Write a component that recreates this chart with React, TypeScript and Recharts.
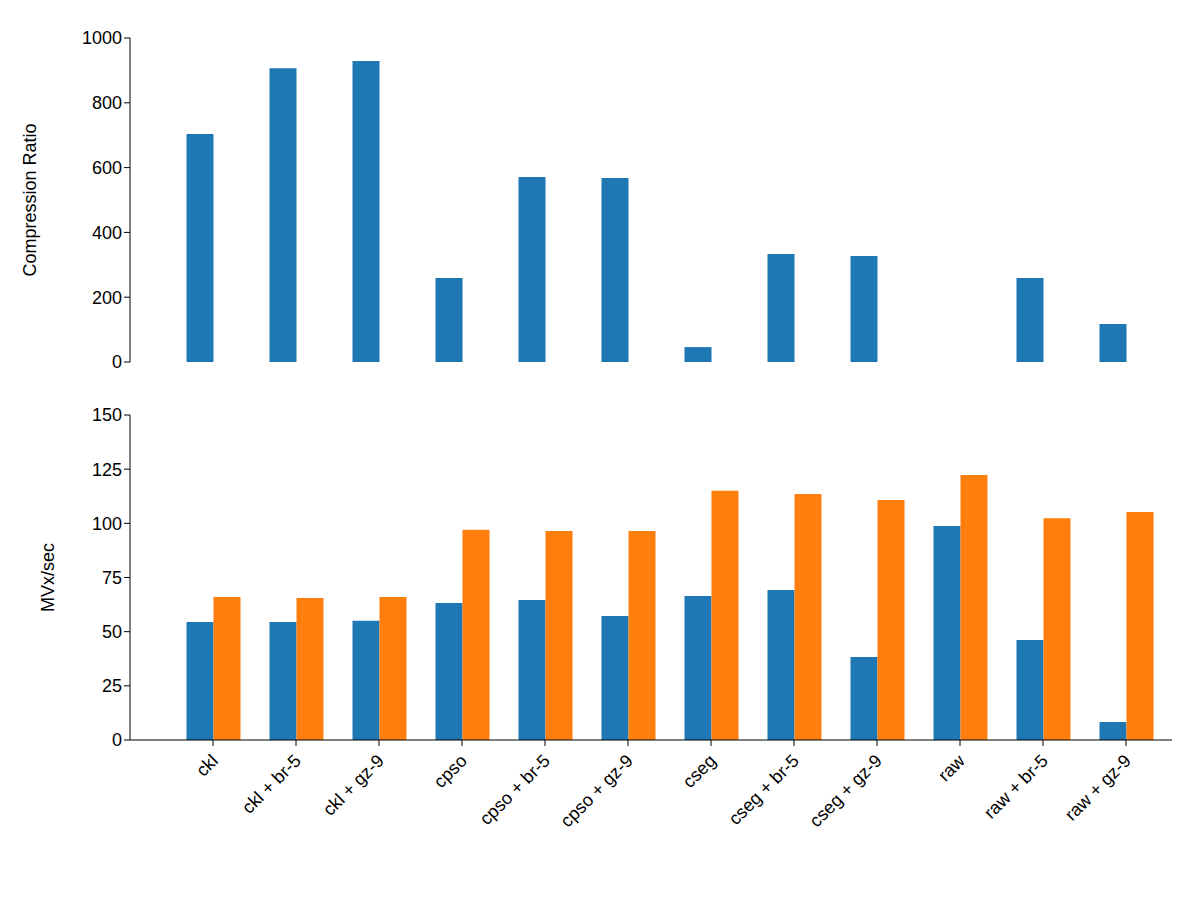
import React from 'react';
import { BarChart, Bar, XAxis, YAxis } from 'recharts';

const categories = [
  'ckl', 'ckl + br-5', 'ckl + gz-9', 'cpso', 'cpso + br-5', 'cpso + gz-9',
  'cseg', 'cseg + br-5', 'cseg + gz-9', 'raw', 'raw + br-5', 'raw + gz-9',
];
const ratio = [704, 907, 929, 259, 571, 568, 46, 333, 327, 0, 259, 117];
const speedBlue = [54.5, 54.5, 55, 63.2, 64.6, 57.2, 66.5, 69.2, 38.3, 98.8, 46.1, 8.3];
const speedOrange = [66, 65.5, 66, 97, 96.5, 96.5, 115, 113.5, 110.8, 122.3, 102.4, 105.2];
const ratioTicks = [0, 200, 400, 600, 800, 1000];
const speedTicks = [0, 25, 50, 75, 100, 125, 150];

const topData = categories.map((name, i) => ({ name, ratio: ratio[i], empty: 0 }));
const bottomData = categories.map((name, i) => ({ name, a: speedBlue[i], b: speedOrange[i] }));

const FONT = 'Liberation Sans, Arial, sans-serif';
const tickStyle = { fontSize: 18, fill: '#000', fontFamily: FONT };
const blk = { stroke: '#000' };

const RotTick = (props: any) => {
  const { x, y, payload } = props;
  return (
    <text
      x={x + 6}
      y={y + 14}
      transform={`rotate(-45, ${x + 6}, ${y + 14})`}
      textAnchor="end"
      style={tickStyle}
    >
      {payload.value}
    </text>
  );
};

const W = 1200;
const padding = { left: 41.5, right: 4.5 };

export default function App() {
  return (
    <div style={{ margin: -8, width: W, height: 900, background: '#fff', fontFamily: FONT }}>
      <BarChart width={W} height={380} data={topData} margin={{ top: 38, right: 28, left: 0, bottom: 18 }} barGap={0} barSize={27}>
        <XAxis dataKey="name" xAxisId={0} tick={false} tickLine={false} axisLine={blk} height={0} padding={padding} />
        <XAxis dataKey="name" xAxisId={1} orientation="top" tick={false} tickLine={false} axisLine={blk} height={0} padding={padding} />
        <YAxis
          yAxisId={0}
          width={130}
          domain={[0, 1000]}
          ticks={ratioTicks}
          tick={tickStyle}
          tickLine={blk}
          axisLine={blk}
          tickSize={6}
          label={{ value: 'Compression Ratio', angle: -90, position: 'insideLeft', offset: 30, style: { ...tickStyle, textAnchor: 'middle' } }}
        />
        <YAxis yAxisId={1} orientation="right" width={0} domain={[0, 1000]} tick={false} tickLine={false} axisLine={blk} />
        <Bar dataKey="ratio" fill="#1f77b4" isAnimationActive={false} />
        <Bar dataKey="empty" fill="none" isAnimationActive={false} />
      </BarChart>
      <BarChart width={W} height={500} data={bottomData} margin={{ top: 35, right: 28, left: 0, bottom: 0 }} barGap={0} barSize={27}>
        <XAxis dataKey="name" xAxisId={0} interval={0} height={140} tick={<RotTick />} tickLine={blk} axisLine={blk} tickSize={6} padding={padding} />
        <XAxis dataKey="name" xAxisId={1} orientation="top" tick={false} tickLine={false} axisLine={blk} height={0} padding={padding} />
        <YAxis
          yAxisId={0}
          width={130}
          domain={[0, 150]}
          ticks={speedTicks}
          tick={tickStyle}
          tickLine={blk}
          axisLine={blk}
          tickSize={6}
          label={{ value: 'MVx/sec', angle: -90, position: 'insideLeft', offset: 48, style: { ...tickStyle, textAnchor: 'middle' } }}
        />
        <YAxis yAxisId={1} orientation="right" width={0} domain={[0, 150]} tick={false} tickLine={false} axisLine={blk} />
        <Bar dataKey="a" fill="#1f77b4" isAnimationActive={false} />
        <Bar dataKey="b" fill="#ff7f0e" isAnimationActive={false} />
      </BarChart>
    </div>
  );
}
